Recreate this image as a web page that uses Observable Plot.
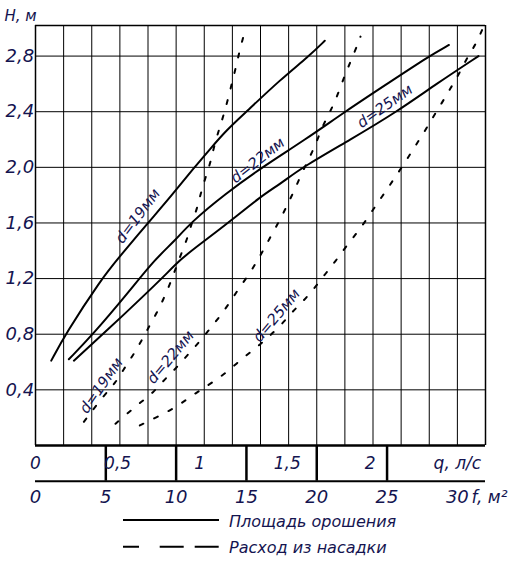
<!DOCTYPE html>
<html><head><meta charset="utf-8">
<script src="https://cdn.jsdelivr.net/npm/d3@7"></script>
<script src="https://cdn.jsdelivr.net/npm/@observablehq/plot@0.6"></script>
<style>
body{margin:0;background:#fff;}
#chart svg{display:block;overflow:visible}
#legend{display:block}
#legend text{font-family:"DejaVu Sans",sans-serif;font-style:italic;font-size:16px;fill:#141450}
</style></head><body>
<div id="chart"></div>
<svg id="legend" width="518" height="56">
<line x1="123" x2="219" y1="15" y2="15" stroke="#000" stroke-width="2"/>
<text x="229" y="21.5">Площадь орошения</text>
<line x1="123" x2="219" y1="41.7" y2="41.7" stroke="#000" stroke-width="2" stroke-dasharray="16 20.7 24 11 24"/>
<text x="229" y="48">Расход из насадки</text>
</svg>
<script>
// ---- axis ticks ----
const hTicks = [0.4, 0.8, 1.2, 1.6, 2.0, 2.4, 2.8];
const fTicks = [0, 5, 10, 15, 20, 25, 30];
const fGrid = [2, 4, 6, 8, 10, 12, 14, 16, 18, 20, 22, 24, 26, 28, 30];
const qTicks = [0.5, 1, 1.5, 2, 2.5];
const qLabels = ["0", "0,5", "1", "1,5", "2", "q, л/с"];
const qLabelAt = [0, 0.584, 1.167, 1.79, 2.38, 3.0];

// ---- area of irrigation f (m2) vs head H (m) ----
const areaF19 = [1.12, 2.13, 4.63, 6.0, 8.0, 9.7, 11.3, 12.4, 13.6, 15.0, 17.4, 19.45, 20.57];
const areaH19 = [0.61, 0.80, 1.19, 1.36, 1.60, 1.80, 2.0, 2.13, 2.27, 2.4, 2.63, 2.8, 2.91];
const areaF22 = [2.37, 4.1, 6.6, 8.5, 9.9, 11.0, 13.5, 16.1, 19.2, 22.0, 25.0, 28.0, 29.4];
const areaH22 = [0.62, 0.80, 1.10, 1.34, 1.47, 1.60, 1.81, 2.0, 2.2, 2.4, 2.6, 2.8, 2.88];
const areaF25 = [2.73, 4.8, 9.0, 10.3, 12.0, 13.7, 16.0, 17.4, 18.95, 22.4, 25.7, 28.5, 31.5];
const areaH25 = [0.61, 0.80, 1.2, 1.34, 1.47, 1.6, 1.79, 1.88, 2.0, 2.2, 2.4, 2.6, 2.8];

// ---- nozzle discharge q (l/s) vs head H (m) ----
const flowQ19 = [0.344, 0.486, 0.569, 0.628, 0.688, 0.747, 0.799, 0.861, 0.909, 0.956, 0.996, 1.037, 1.08, 1.108, 1.151, 1.174, 1.21, 1.246, 1.269, 1.305, 1.336, 1.369, 1.395, 1.423, 1.447, 1.478];
const flowH19 = [0.17, 0.36, 0.45, 0.55, 0.64, 0.74, 0.84, 0.95, 1.05, 1.16, 1.27, 1.38, 1.49, 1.59, 1.71, 1.81, 1.93, 2.04, 2.15, 2.27, 2.37, 2.49, 2.60, 2.71, 2.82, 2.94];
const flowQ22 = [0.569, 0.653, 0.747, 0.838, 0.913, 1.004, 1.08, 1.162, 1.233, 1.305, 1.376, 1.44, 1.511, 1.573, 1.623, 1.687, 1.742, 1.796, 1.843, 1.895, 1.948, 1.995, 2.038, 2.09, 2.137, 2.18, 2.223, 2.27, 2.311];
const flowH22 = [0.156, 0.23, 0.31, 0.38, 0.47, 0.56, 0.65, 0.74, 0.83, 0.92, 1.02, 1.12, 1.22, 1.32, 1.41, 1.53, 1.63, 1.74, 1.84, 1.96, 2.07, 2.17, 2.29, 2.39, 2.49, 2.61, 2.72, 2.83, 2.94];
const flowQ25 = [0.742, 0.854, 0.973, 1.075, 1.174, 1.269, 1.376, 1.464, 1.566, 1.646, 1.742, 1.824, 1.907, 1.991, 2.066, 2.137, 2.208, 2.287, 2.358, 2.429, 2.493, 2.564, 2.631, 2.698, 2.762, 2.826, 2.888, 2.952, 3.011, 3.07, 3.134, 3.181];
const flowH25 = [0.144, 0.20, 0.26, 0.33, 0.40, 0.46, 0.54, 0.62, 0.70, 0.77, 0.86, 0.96, 1.04, 1.14, 1.24, 1.33, 1.43, 1.53, 1.63, 1.74, 1.83, 1.94, 2.04, 2.15, 2.25, 2.36, 2.46, 2.57, 2.67, 2.79, 2.89, 3.0];

// ---- curve labels ----
const curveLabels = ["d=19мм", "d=22мм", "d=25мм", "d=19мм", "d=22мм", "d=25мм"];
const labelF = [7.28, 15.8, 24.84, 4.68, 9.6, 17.15];
const labelH = [1.65, 2.05, 2.44, 0.43, 0.635, 0.935];
const labelAngle = [-53, -38, -35, -55, -50, -50];

const F_MAX = 32, H_MAX = 3.02, H_BAND = -0.257;
const ink = "#141450";
const font = "DejaVu Sans";

const toRows = (xs, ys) => xs.map((x, i) => ({x, y: ys[i]}));
const area = [toRows(areaF19, areaH19), toRows(areaF22, areaH22), toRows(areaF25, areaH25)];
const flow = [toRows(flowQ19, flowH19), toRows(flowQ22, flowH22), toRows(flowQ25, flowH25)];
const labels = curveLabels.map((t, i) => ({t, x: labelF[i], y: labelH[i], r: labelAngle[i]}));
const comma = v => String(v).replace(".", ",");

const marks = [
  Plot.ruleX(fGrid, {y1: 0, y2: H_MAX, stroke: "#000", strokeWidth: 1}),
  Plot.ruleY(hTicks, {x1: 0, x2: F_MAX, stroke: "#000", strokeWidth: 1}),
  Plot.ruleX([0, F_MAX], {y1: 0, y2: H_MAX, stroke: "#000", strokeWidth: 1.5}),
  Plot.ruleY([H_MAX], {x1: 0, x2: F_MAX, stroke: "#000", strokeWidth: 1.5}),
  Plot.ruleY([0], {x1: 0, x2: F_MAX, stroke: "#000", strokeWidth: 2.5}),
  Plot.ruleY([H_BAND], {x1: 0, x2: F_MAX, stroke: "#000", strokeWidth: 2}),
  Plot.ruleX(qTicks, {x: d => d * 10, y1: H_BAND, y2: 0, stroke: "#000", strokeWidth: 2.5}),
  ...area.map(rows => Plot.line(rows, {x: "x", y: "y", curve: "basis", stroke: "#000", strokeWidth: 2})),
  ...flow.map(rows => Plot.line(rows, {x: d => d.x * 10, y: "y", curve: "basis", stroke: "#000", strokeWidth: 2, strokeDasharray: "4,12"})),
  Plot.text(labels, {x: "x", y: "y", text: "t", rotate: "r", fill: ink, fontSize: 15, fontFamily: font, fontStyle: "italic"}),
  Plot.text(hTicks, {x: 0, y: d => d, text: d => comma(d.toFixed(1)), textAnchor: "start", dx: -30, fill: ink, fontSize: 18, fontFamily: font, fontStyle: "italic"}),
  Plot.text(["H, м"], {x: 0, y: H_MAX, textAnchor: "start", dx: -31, dy: -9, fill: ink, fontSize: 15, fontFamily: font, fontStyle: "italic"}),
  Plot.text(qLabels, {x: (d, i) => qLabelAt[i] * 10, y: H_BAND / 2, text: d => d, fill: ink, fontSize: 17, fontFamily: font, fontStyle: "italic"}),
  Plot.text(fTicks, {x: d => d, y: H_BAND, text: d => String(d), dy: 16, fill: ink, fontSize: 18, fontFamily: font, fontStyle: "italic"}),
  Plot.text(["f, м²"], {x: 30, y: H_BAND, textAnchor: "start", dx: 14, dy: 16, fill: ink, fontSize: 17, fontFamily: font, fontStyle: "italic"})
];

const chart = Plot.plot({
  width: 518,
  height: 505,
  marginLeft: 35,
  marginRight: 33,
  marginTop: 25,
  marginBottom: 24.3,
  x: {domain: [0, F_MAX], axis: null},
  y: {domain: [H_BAND, H_MAX], axis: null},
  style: {fontFamily: font, background: "#fff"},
  marks
});
document.getElementById("chart").appendChild(chart);
</script>
</body></html>
